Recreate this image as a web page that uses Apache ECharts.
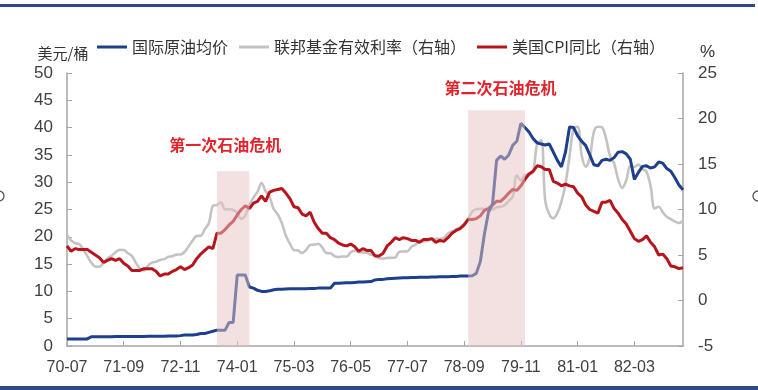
<!DOCTYPE html>
<html>
<head>
<meta charset="utf-8">
<script src="https://cdn.jsdelivr.net/npm/echarts@6/dist/echarts.min.js"></script>
<style>html,body{margin:0;padding:0;background:#fff;}#c{width:758px;height:390px;}</style>
</head>
<body>
<div id="c"></div>
<script>
// Months from 1970-07 to 1983-03 (labels "YY-MM")
const startYear = 1970, startMonth = 7, monthCount = 153;
const categories = [];
for (let i = 0; i < monthCount; i++) {
  const m = startMonth - 1 + i;
  const y = startYear + Math.floor(m / 12);
  const mm = (m % 12) + 1;
  categories.push(String(y).slice(2) + '-' + (mm < 10 ? '0' + mm : mm));
}

const seriesNames = ['国际原油均价', '联邦基金有效利率（右轴）', '美国CPI同比（右轴）'];

// 国际原油均价 (USD/bbl, left axis)
const oilPrice = [
  1.3,1.3,1.3,1.3,1.3,1.3,
  1.7,1.7,1.7,1.7,1.7,1.7,1.75,1.75,1.75,1.75,1.75,1.75,
  1.75,1.75,1.8,1.8,1.8,1.8,1.8,1.85,1.85,1.85,1.9,2.0,
  2.0,2.0,2.1,2.3,2.3,2.5,2.7,2.9,2.9,2.9,4.3,4.3,
  13.0,13.0,13.0,10.8,10.6,10.2,10.0,10.0,10.1,10.3,10.4,10.4,
  10.45,10.5,10.5,10.5,10.5,10.5,10.55,10.55,10.6,10.6,10.6,10.6,
  11.5,11.5,11.55,11.6,11.6,11.65,11.7,11.7,11.75,11.8,12.1,12.2,
  12.2,12.3,12.35,12.4,12.45,12.5,12.5,12.55,12.55,12.6,12.6,12.6,
  12.65,12.65,12.7,12.7,12.7,12.75,12.75,12.8,12.8,12.8,12.85,13.3,
  15.5,20.5,24.5,26.0,34.0,34.8,34.2,35.0,36.8,37.5,40.8,40.0,
  39.2,38.0,37.2,37.0,36.8,37.0,35.5,34.0,32.8,35.5,40.1,40.0,
  38.5,37.5,36.7,35.0,33.2,33.0,34.0,34.2,34.0,34.5,35.5,35.6,
  35.2,34.2,30.5,31.8,32.9,33.0,32.6,32.8,33.7,33.5,32.5,32.0,
  30.8,29.5,28.6
];

// 联邦基金有效利率 (%, right axis)
const fedFunds = [
  7.21,6.61,6.29,6.20,5.60,4.90,
  4.14,3.72,3.71,4.15,4.63,4.91,5.31,5.56,5.55,5.20,4.91,4.14,
  3.50,3.29,3.83,4.17,4.27,4.46,4.55,4.80,4.87,5.04,5.06,5.33,
  5.94,6.58,7.09,7.12,7.84,8.49,10.40,10.50,10.78,10.01,10.03,9.95,
  9.65,8.97,9.35,10.51,11.31,11.93,12.92,12.01,11.34,10.06,9.45,8.53,
  7.13,6.24,5.54,5.49,5.22,5.55,6.10,6.14,6.24,5.82,5.22,5.20,
  4.87,4.77,4.84,4.82,5.29,5.48,5.31,5.29,5.25,5.03,4.95,4.65,
  4.61,4.68,4.69,4.73,5.35,5.39,5.42,5.90,6.14,6.47,6.51,6.56,
  6.70,6.78,6.79,6.89,7.36,7.60,7.81,8.04,8.45,8.96,9.76,10.03,
  10.07,10.06,10.09,10.01,10.24,10.29,10.47,10.94,11.43,13.77,13.18,13.78,
  13.82,14.13,17.19,17.61,10.98,9.47,9.03,9.61,10.87,12.81,15.85,18.90,
  19.08,15.93,14.70,15.72,18.52,19.10,19.04,17.82,15.87,15.08,13.31,12.37,
  13.22,14.78,14.68,14.94,14.45,14.15,12.59,10.12,10.31,9.71,9.20,8.95,
  8.68,8.51,8.77
];

// 美国CPI同比 (%, right axis)
const cpiYoY = [
  6.0,5.4,5.7,5.6,5.6,5.6,
  5.3,5.0,4.7,4.2,4.4,4.6,4.4,4.6,4.1,3.8,3.3,3.3,
  3.3,3.5,3.5,3.5,3.2,2.7,2.9,2.9,3.2,3.4,3.7,3.4,
  3.6,3.9,4.6,5.1,5.5,5.9,5.7,7.4,7.4,7.8,8.3,8.7,
  9.4,10.0,10.4,10.1,10.7,10.9,11.5,10.9,11.9,12.1,12.2,12.3,
  11.8,11.2,10.3,10.2,9.5,9.3,9.7,8.6,7.9,7.4,7.4,6.9,
  6.7,6.3,6.1,6.0,6.2,5.9,5.4,5.7,5.5,5.5,4.9,4.9,
  5.2,6.0,6.4,6.9,6.7,6.9,6.8,6.6,6.6,6.4,6.7,6.7,
  6.8,6.4,6.6,6.5,6.9,7.4,7.7,7.9,8.3,8.9,8.9,9.0,
  9.3,9.9,10.1,10.5,10.9,10.9,11.3,11.8,12.2,12.1,12.6,13.3,
  13.9,14.2,14.8,14.7,14.4,14.4,13.1,12.9,12.6,12.8,12.6,12.5,
  11.8,11.4,10.5,10.0,9.8,9.6,10.8,10.8,11.0,10.1,9.6,8.9,
  8.4,7.6,6.8,6.5,6.7,7.1,6.4,5.9,5.0,5.1,4.6,3.8,
  3.7,3.5,3.6
];

// Oil crisis periods
const crisisNames = ['第一次石油危机', '第二次石油危机'];
const crisisStart = ['73-08', '78-10'];
const crisisEnd = ['74-04', '79-12'];
const crisisTop = [32, 43.2];

const leftAxisName = '美元/桶';
const rightAxisName = '%';

const chart = echarts.init(document.getElementById('c'), null, {renderer: 'canvas'});
const labelFont = 'Liberation Sans, Arial, sans-serif';
const cjkFont = 'Noto Sans CJK SC, sans-serif';
const axisCol = '#a6a6a6';

const crisisLabelOffsets = [[-8, 0], [4, 0]];
const crisisLabelDist = [18, 14];

const option = {
  animation: false,
  backgroundColor: '#ffffff',
  grid: {left: 67, right: 75, top: 73, bottom: 44},
  legend: {
    left: 92, top: 34,
    icon: 'rect',
    itemWidth: 30, itemHeight: 3, itemGap: 11,
    textStyle: {fontSize: 16, color: '#333', fontFamily: cjkFont},
    data: seriesNames
  },
  xAxis: {
    type: 'category', data: categories, boundaryGap: false,
    axisLine: {lineStyle: {color: axisCol, width: 1.5}},
    axisTick: {inside: true, length: 5, interval: 13, lineStyle: {color: axisCol}},
    axisLabel: {interval: 13, fontSize: 16, color: '#404040', fontFamily: labelFont, margin: 14},
    splitLine: {show: false}
  },
  yAxis: [{
    type: 'value', min: 0, max: 50, interval: 5,
    name: leftAxisName, nameLocation: 'end', nameGap: 12,
    nameTextStyle: {fontSize: 15, color: '#333', fontFamily: cjkFont, padding: [0, 8, 0, 0]},
    axisLine: {show: true, lineStyle: {color: axisCol, width: 1.5}},
    axisTick: {show: true, inside: true, length: 5, lineStyle: {color: axisCol}},
    axisLabel: {fontSize: 17, color: '#404040', fontFamily: labelFont, margin: 14},
    splitLine: {show: false}
  }, {
    type: 'value', min: -5, max: 25, interval: 5, position: 'right',
    name: rightAxisName, nameLocation: 'end', nameGap: 12,
    nameTextStyle: {fontSize: 17, color: '#333', fontFamily: labelFont, align: 'left', padding: [0, 0, 0, 17]},
    axisLine: {show: true, lineStyle: {color: axisCol, width: 1.5}},
    axisTick: {show: true, inside: true, length: 5, lineStyle: {color: axisCol}},
    axisLabel: {fontSize: 17, color: '#404040', fontFamily: labelFont, margin: 15},
    splitLine: {show: false}
  }],
  series: [
    {
      name: seriesNames[0], type: 'line', yAxisIndex: 0, data: oilPrice,
      symbol: 'none', z: 4,
      lineStyle: {color: '#1d3f8c', width: 3}, itemStyle: {color: '#1d3f8c'}
    },
    {
      name: seriesNames[1], type: 'line', yAxisIndex: 1, data: fedFunds,
      symbol: 'none', smooth: 0.35, z: 2,
      lineStyle: {color: '#c3c3c3', width: 2.6}, itemStyle: {color: '#c3c3c3'}
    },
    {
      name: seriesNames[2], type: 'line', yAxisIndex: 1, data: cpiYoY,
      symbol: 'none', z: 3,
      lineStyle: {color: '#b7141c', width: 3}, itemStyle: {color: '#b7141c'}
    },
    {
      name: 'crisis', type: 'line', yAxisIndex: 0, z: 10,
      data: categories.map(() => null), symbol: 'none',
      silent: true,
      markArea: {
        silent: true, z: 10,
        itemStyle: {color: 'rgba(232,196,196,0.5)'},
        data: crisisNames.map((n, i) => [
          {name: n, xAxis: crisisStart[i], yAxis: 0,
           label: {show: true, position: 'top', distance: crisisLabelDist[i], offset: crisisLabelOffsets[i],
                   color: '#e3232b', fontSize: 16, fontWeight: 'bold', fontFamily: cjkFont}},
          {xAxis: crisisEnd[i], yAxis: crisisTop[i]}
        ])
      }
    }
  ],
  graphic: [
    {type: 'rect', shape: {x: 0, y: 4, width: 755, height: 3}, style: {fill: '#2c4a86'}, silent: true},
    {type: 'rect', shape: {x: 0, y: 386, width: 758, height: 4}, style: {fill: '#2e4b7d'}, silent: true},
    {type: 'circle', shape: {cx: -1, cy: 196, r: 5}, style: {fill: 'none', stroke: '#555', lineWidth: 1.3}, silent: true},
    {type: 'circle', shape: {cx: 758, cy: 196, r: 5}, style: {fill: 'none', stroke: '#555', lineWidth: 1.3}, silent: true}
  ]
};
chart.setOption(option);
</script>
</body>
</html>
